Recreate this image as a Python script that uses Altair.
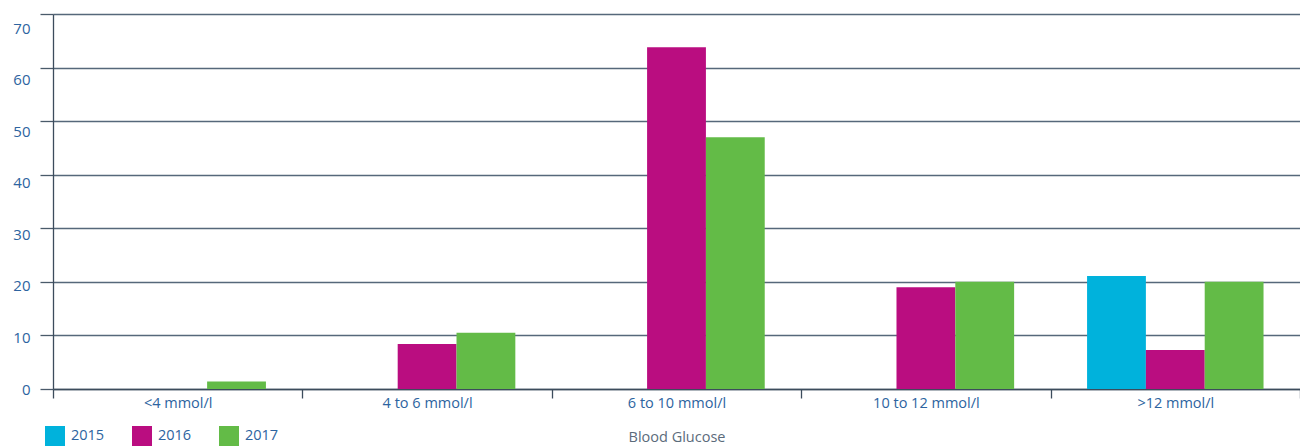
import altair as alt
import pandas as pd

categories = ["<4 mmol/l", "4 to 6 mmol/l", "6 to 10 mmol/l", "10 to 12 mmol/l", ">12 mmol/l"]
years = ["2015", "2016", "2017"]
values_2015 = [None, None, None, None, 21.1]
values_2016 = [None, 8.4, 63.8, 19.0, 7.3]
values_2017 = [1.4, 10.5, 47.0, 20.0, 20.0]
colors = ["#00B2DC", "#BA0D80", "#63BB47"]
y_ticks = [0, 10, 20, 30, 40, 50, 60, 70]

rows = []
for yr, vals in zip(years, [values_2015, values_2016, values_2017]):
    for c, v in zip(categories, vals):
        if v is not None:
            rows.append({"category": c, "year": yr, "value": v})
df = pd.DataFrame(rows)

FONT = "Open Sans"
BLUE = "#2D64A0"

chart = alt.Chart(df).mark_bar().encode(
    x=alt.X(
        "category:N",
        sort=categories,
        scale=alt.Scale(domain=categories, paddingInner=0, paddingOuter=0),
        axis=alt.Axis(
            title="Blood Glucose",
            labelAngle=0,
            tickBand="extent",
            ticks=True,
            tickSize=9,
            tickColor="#3C4C5C",
            tickWidth=1.3,
            domainColor="#3C4C5C",
            domainWidth=1.3,
            labelColor=BLUE,
            labelFont=FONT,
            labelFontSize=14.5,
            labelPadding=-2,
            titleFont=FONT,
            titleFontSize=14.5,
            titleFontWeight="normal",
            titleColor="#5B6B7B",
            titlePadding=21,
            grid=False,
        ),
    ),
    xOffset=alt.XOffset(
        "year:N",
        scale=alt.Scale(domain=years, paddingInner=0, paddingOuter=0.62),
    ),
    y=alt.Y(
        "value:Q",
        scale=alt.Scale(domain=[0, 70], nice=False),
        axis=alt.Axis(
            title=None,
            values=y_ticks,
            tickSize=13,
            tickColor="#4A5A6A",
            tickWidth=1.3,
            grid=True,
            gridColor="#56687A",
            gridWidth=1.4,
            domainColor="#3C4C5C",
            domainWidth=1.3,
            labelColor=BLUE,
            labelFont=FONT,
            labelFontSize=15,
            labelPadding=10,
            labelOffset={"expr": "datum.value * 0.2"},
        ),
    ),
    color=alt.Color(
        "year:N",
        scale=alt.Scale(domain=years, range=colors),
        legend=alt.Legend(
            title=None,
            orient="none",
            legendX=-8,
            legendY=412,
            direction="horizontal",
            columns=3,
            symbolType="square",
            symbolSize=400,
            symbolStrokeWidth=0,
            labelFont=FONT,
            labelFontSize=14.5,
            labelColor=BLUE,
            labelOffset=6,
            columnPadding=27,
            padding=0,
        ),
    ),
).properties(
    width=1247,
    height=375,
    autosize=alt.AutoSizeParams(type="none"),
    padding={"left": 53, "top": 14, "right": 0, "bottom": 57},
).configure_view(stroke=None)

chart.save("out.html", embed_options={"renderer": "svg", "actions": False})
